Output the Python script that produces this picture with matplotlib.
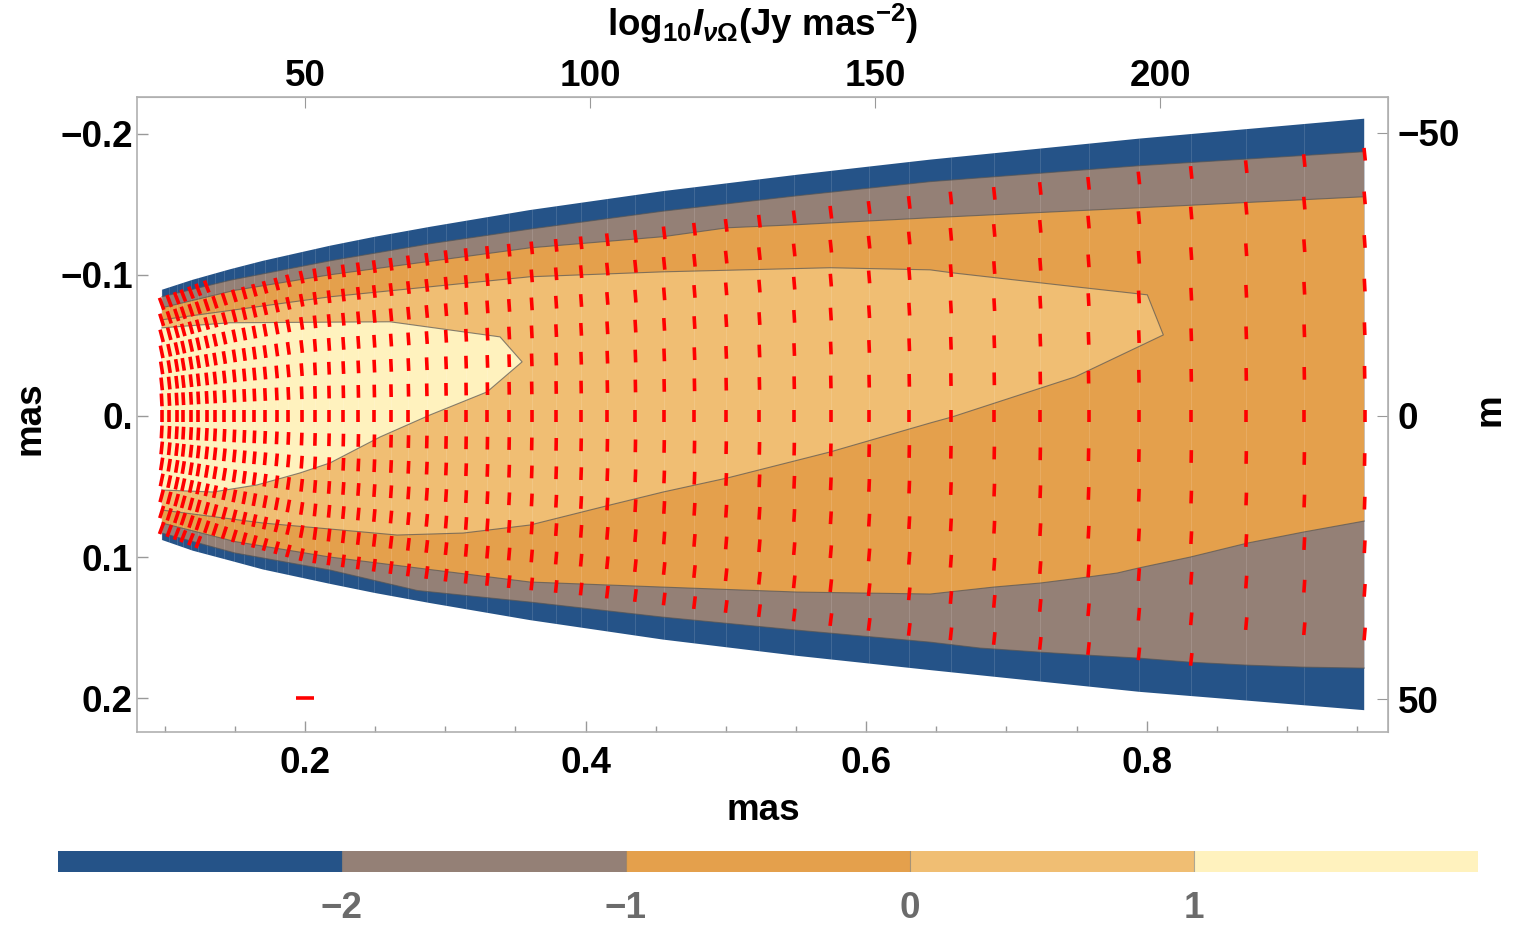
import matplotlib
matplotlib.use('Agg')
import matplotlib.pyplot as plt
import numpy as np
from matplotlib.collections import LineCollection
from matplotlib.colors import ListedColormap, BoundaryNorm
from matplotlib.cm import ScalarMappable
from matplotlib.ticker import MultipleLocator

plt.rcParams['font.family'] = ['Liberation Sans', 'DejaVu Sans']
plt.rcParams['font.weight'] = 'bold'
plt.rcParams['mathtext.fontset'] = 'custom'
plt.rcParams['mathtext.rm'] = 'Liberation Sans:bold'
plt.rcParams['mathtext.it'] = 'Liberation Sans:bold:italic'
plt.rcParams['mathtext.bf'] = 'Liberation Sans:bold'

# contour levels of log10 I and their colours
levels = [-3, -2, -1, 0, 1, 2]
level_colors = ['#255388', '#948076', '#E4A04C', '#F0BE73', '#FFF2BE']
cbar_ticks = [-2, -1, 0, 1]
cbar_labels = ['\u22122', '\u22121', '0', '1']

# outer edge of the jet (mas)
edge_up_x = [0.098, 0.12, 0.1465, 0.17, 0.2178, 0.25, 0.2891, 0.3604, 0.4553, 0.5508,
             0.6456, 0.7947, 0.955]
edge_up_y = [-0.0894, -0.0965, -0.1039, -0.1099, -0.1206, -0.1270, -0.1340, -0.1459, -0.1593,
             -0.1709, -0.1816, -0.1965, -0.2106]
edge_lo_x = edge_up_x
edge_lo_y = [0.0879, 0.0955, 0.1025, 0.1088, 0.1190, 0.1255, 0.1326, 0.1447, 0.1585,
             0.1700, 0.1801, 0.1955, 0.2085]

# level -2 contour
m2_up_x = [0.098, 0.1465, 0.2178, 0.2891, 0.3604, 0.4553, 0.5508, 0.6456, 0.7947, 0.955]
m2_up_y = [-0.0844, -0.0961, -0.1099, -0.1220, -0.1324, -0.1451, -0.1560, -0.1660, -0.1773,
           -0.1872]
m2_lo_x = [0.098, 0.15, 0.2178, 0.28, 0.3604, 0.4553, 0.5508, 0.6456, 0.6813, 0.7241, 0.7576,
           0.7940, 0.8310, 0.8717, 0.9116, 0.955]
m2_lo_y = [0.0830, 0.0971, 0.1092, 0.1237, 0.1319, 0.1426, 0.1518, 0.1603, 0.1645, 0.1674,
           0.1695, 0.1716, 0.1745, 0.1766, 0.1780, 0.1787]

# level -1 contour
m1_up_x = [0.098, 0.15, 0.2178, 0.3604, 0.4553, 0.5009, 0.5508, 0.6456, 0.7947, 0.955]
m1_up_y = [-0.0766, -0.0890, -0.1000, -0.1191, -0.1270, -0.1333, -0.1355, -0.1404, -0.1475,
           -0.1553]
m1_lo_x = [0.098, 0.15, 0.2178, 0.3604, 0.4553, 0.5508, 0.6456, 0.6906, 0.7241, 0.7576,
           0.7790, 0.7940, 0.8310, 0.8717, 0.9116, 0.955]
m1_lo_y = [0.0759, 0.0890, 0.1000, 0.1177, 0.1213, 0.1248, 0.1262, 0.1213, 0.1184, 0.1142,
           0.1113, 0.1078, 0.1000, 0.0901, 0.0823, 0.0745]

# level 0 contour (closed against the left edge)
c0_x = [0.098, 0.2178, 0.3604, 0.4553, 0.5744, 0.6456, 0.6613, 0.7490, 0.8004, 0.8118,
        0.7490, 0.6613, 0.6456, 0.5744, 0.5009, 0.4553, 0.4175, 0.3604, 0.3127, 0.2656,
        0.1701, 0.098]
c0_y = [-0.0681, -0.0844, -0.0986, -0.1021, -0.1050, -0.1035, -0.1014, -0.0915, -0.0858, -0.0574,
        -0.0277, 0.0007, 0.0050, 0.0255, 0.0440, 0.0539, 0.0631, 0.0773, 0.0830, 0.0844,
        0.0759, 0.0667]

# level 1 contour
c1_x = [0.098, 0.1465, 0.2606, 0.3390, 0.3547, 0.3297, 0.2891, 0.2535, 0.2178, 0.1964,
        0.1658, 0.1344, 0.098]
c1_y = [-0.0624, -0.0660, -0.0667, -0.0560, -0.0383, -0.0170, -0.0007, 0.0149, 0.0333, 0.0404,
        0.0489, 0.0539, 0.0525]

# polarisation vectors: columns along the jet and row spacing across it
vec_x = [0.0978, 0.1032, 0.1085, 0.1132, 0.1187, 0.1239, 0.1299, 0.1358, 0.1425, 0.1496,
         0.1567, 0.1639, 0.1715, 0.1798, 0.1881, 0.1976, 0.2071, 0.2171, 0.2273, 0.2380,
         0.2494, 0.2613, 0.2737, 0.2868, 0.3005, 0.3148, 0.3300, 0.3455, 0.3616, 0.3790,
         0.3968, 0.4155, 0.4355, 0.4560, 0.4776, 0.5002, 0.5239, 0.5487, 0.5748, 0.6021,
         0.6307, 0.6604, 0.6913, 0.7241, 0.7585, 0.7944, 0.8317, 0.8709, 0.9123, 0.9553]
row_sp_x = [0.098, 0.15, 0.2, 0.3, 0.4, 0.5, 0.63, 0.8, 0.955]
row_sp_d = [0.01135, 0.0142, 0.0165, 0.0188, 0.0205, 0.0225, 0.0252, 0.0282, 0.0309]
rows = np.arange(-8, 9)

fig = plt.figure(figsize=(15.17, 9.36), dpi=100)
ax = fig.add_axes([0.0903, 0.2179, 0.8247, 0.6785])

def poly(xu, yu, xl, yl):
    return np.r_[xu, xl[::-1]], np.r_[yu, yl[::-1]]

px, py = poly(edge_up_x, edge_up_y, edge_lo_x, edge_lo_y)
jet = ax.fill(px, py, color=level_colors[0], lw=0, zorder=1)[0]
px, py = poly(m2_up_x, m2_up_y, m2_lo_x, m2_lo_y)
ax.fill(px, py, color=level_colors[1], lw=0, zorder=2)
px, py = poly(m1_up_x, m1_up_y, m1_lo_x, m1_lo_y)
ax.fill(px, py, color=level_colors[2], lw=0, zorder=3)
ax.fill(c0_x, c0_y, color=level_colors[3], lw=0, zorder=4)
ax.fill(c1_x, c1_y, color=level_colors[4], lw=0, zorder=5)

# faint mesh lines of the rendering
for x0 in vec_x:
    ml = ax.axvline(x0, color='white', lw=0.6, alpha=0.15, zorder=5.5)
    ml.set_clip_path(jet)

line_kw = dict(color='#555555', lw=0.8, alpha=0.7, zorder=6)
for lx, ly in [(m2_up_x, m2_up_y), (m2_lo_x, m2_lo_y), (m1_up_x, m1_up_y),
               (m1_lo_x, m1_lo_y), (c0_x, c0_y), (c1_x, c1_y)]:
    ax.plot(lx, ly, **line_kw)

# vectors perpendicular to the flow lines y = k * spacing(x)
vx = np.array(vec_x)
sp = np.interp(vx, row_sp_x, row_sp_d)
dsp = np.gradient(sp, vx)
top = np.interp(vx, m2_up_x, m2_up_y)
bot = np.interp(vx, m2_lo_x, m2_lo_y)
half = 0.0045
segs = []
for i, x0 in enumerate(vx):
    for k in rows:
        y0 = k * sp[i]
        if y0 <= top[i] or y0 >= bot[i]:
            continue
        m = k * dsp[i]
        n = np.hypot(m, 1.0)
        dx, dy = -m / n * half, 1.0 / n * half
        segs.append([(x0 - dx, y0 - dy), (x0 + dx, y0 + dy)])
ax.add_collection(LineCollection(segs, colors='#ff0000', linewidths=2.6,
                                 capstyle='butt', zorder=8))
# reference vector
ax.plot([0.1932, 0.2067], [0.2, 0.2], color='#ff0000', lw=2.6,
        solid_capstyle='butt', zorder=8)

ax.set_xlim(0.0802, 0.972)
ax.set_ylim(0.224, -0.226)

frame_c = '#b0b0b0'
for s in ax.spines.values():
    s.set_color(frame_c)
    s.set_linewidth(1.2)

fs = 26.5
ax.set_xticks([0.2, 0.4, 0.6, 0.8])
ax.set_xticklabels(['0.2', '0.4', '0.6', '0.8'])
ax.xaxis.set_minor_locator(MultipleLocator(0.05))
ax.set_yticks([-0.2, -0.1, 0.0, 0.1, 0.2])
ax.set_yticklabels(['\u22120.2', '\u22120.1', '0.', '0.1', '0.2'])
ax.tick_params(which='both', direction='in', color='#999999', width=1,
               labelsize=fs, top=False, right=False)
ax.tick_params(which='major', length=8)
ax.tick_params(which='minor', length=4)
ax.tick_params(axis='x', pad=10)
ax.tick_params(axis='y', pad=3)

secx = ax.secondary_xaxis('top', functions=(lambda x: 246.0 * x + 0.8,
                                            lambda t: (t - 0.8) / 246.0))
secx.set_xticks([50, 100, 150, 200])
secx.set_xticklabels(['50', '100', '150', '200'])
secx.tick_params(direction='in', length=8, color='#999999', labelsize=fs, pad=2)
secx.spines['top'].set_color(frame_c)

secy = ax.secondary_yaxis('right', functions=(lambda y: 249.0 * y,
                                              lambda v: v / 249.0))
secy.set_yticks([-50, 0, 50])
secy.set_yticklabels(['\u221250', '0', '50'])
secy.tick_params(direction='in', length=8, color='#999999', labelsize=fs, pad=7)
secy.spines['right'].set_color(frame_c)

fig.text(763 / 1517, 1 - 810 / 936, 'mas', fontsize=fs, ha='center', va='center')
fig.text(30 / 1517, 1 - 418 / 936, 'mas', fontsize=fs, ha='center', va='center', rotation=90)
fig.text(1490 / 1517, 1 - 410 / 936, 'm', fontsize=fs, ha='center', va='center', rotation=90)
fig.text(763 / 1517, 1 - 24 / 936, r'log$_{10}$$I_{\nu\Omega}$(Jy mas$^{-2}$)',
         fontsize=fs, ha='center', va='center')

cax = fig.add_axes([0.0382, 0.0684, 0.936, 0.0224])
cmap = ListedColormap(level_colors)
norm = BoundaryNorm(levels, cmap.N)
cb = fig.colorbar(ScalarMappable(norm=norm, cmap=cmap), cax=cax,
                  orientation='horizontal', ticks=cbar_ticks)
cb.outline.set_visible(False)
cb.set_ticklabels(cbar_labels)
cax.minorticks_off()
for s in cax.spines.values():
    s.set_visible(False)
for t in cbar_ticks:
    cax.axvline(t, color='#777777', lw=0.8, alpha=0.6)
cax.tick_params(which='both', length=0, pad=14, labelcolor='#6b6b6b', labelsize=fs)

fig.savefig('out.png', dpi=100)
